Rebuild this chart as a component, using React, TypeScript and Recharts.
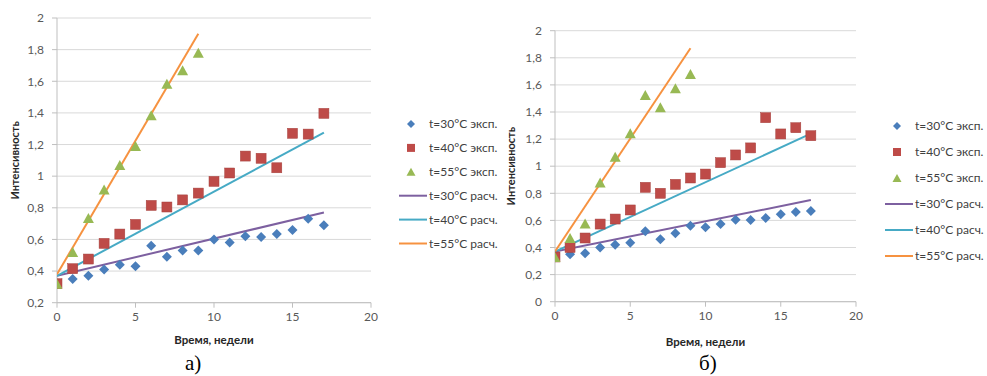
import React from 'react';
import { ScatterChart, Scatter, XAxis, YAxis, CartesianGrid, Label } from 'recharts';

// ---------- data ----------
const weeks = [0, 1, 2, 3, 4, 5, 6, 7, 8, 9, 10, 11, 12, 13, 14, 15, 16, 17];
const weeks55 = [0, 1, 2, 3, 4, 5, 6, 7, 8, 9];
const calcWeeksLong = [0, 17];
const calcWeeksShort = [0, 9];

// chart а)
const exp30A = [0.32, 0.35, 0.37, 0.41, 0.44, 0.43, 0.56, 0.49, 0.53, 0.53, 0.6, 0.58, 0.62, 0.615, 0.635, 0.66, 0.73, 0.69];
const exp40A = [0.32, 0.415, 0.476, 0.575, 0.634, 0.695, 0.815, 0.805, 0.85, 0.893, 0.967, 1.02, 1.127, 1.113, 1.053, 1.271, 1.266, 1.397];
const exp55A = [0.32, 0.52, 0.735, 0.915, 1.07, 1.19, 1.385, 1.585, 1.67, 1.78];
const calc30A = [0.37, 0.77];
const calc40A = [0.37, 1.275];
const calc55A = [0.38, 1.9];

// chart б)
const exp30B = [0.33, 0.35, 0.357, 0.4, 0.42, 0.435, 0.52, 0.46, 0.505, 0.56, 0.55, 0.573, 0.605, 0.603, 0.618, 0.645, 0.662, 0.67];
const exp40B = [0.33, 0.4, 0.47, 0.573, 0.61, 0.677, 0.844, 0.8, 0.866, 0.913, 0.942, 1.026, 1.083, 1.135, 1.358, 1.238, 1.284, 1.225];
const exp55B = [0.33, 0.47, 0.578, 0.88, 1.07, 1.243, 1.525, 1.435, 1.575, 1.68];
const calc30B = [0.37, 0.75];
const calc40B = [0.37, 1.24];
const calc55B = [0.37, 1.87];

const xTicks = [0, 5, 10, 15, 20];
const yTicksA = [0.2, 0.4, 0.6, 0.8, 1, 1.2, 1.4, 1.6, 1.8, 2];
const yTicksB = [0, 0.2, 0.4, 0.6, 0.8, 1, 1.2, 1.4, 1.6, 1.8, 2];

const seriesNames = ['t=30°C эксп.', 't=40°C эксп.', 't=55°C эксп.', 't=30°C расч.', 't=40°C расч.', 't=55°C расч.'];
const xTitle = 'Время, недели';
const yTitle = 'Интенсивность';

// ---------- styles ----------
const C_BLUE = '#4A7EBB';
const C_RED = '#BE4B48';
const C_GREEN = '#98B954';
const C_PURPLE = '#7D60A0';
const C_CYAN = '#46AAC5';
const C_ORANGE = '#F69240';
const FONT = 'Lato, "Open Sans", sans-serif';
const AXIS = '#BFBFBF';

const toPts = (xs: number[], ys: number[]) => xs.map((x, i) => ({ x, y: ys[i] }));
const fmt = (v: number) => String(Number(v.toFixed(1))).replace('.', ',');

const diamond = (r: number) => (p: any) => (
  <path d={`M${p.cx},${p.cy - r}L${p.cx + r},${p.cy}L${p.cx},${p.cy + r}L${p.cx - r},${p.cy}Z`} fill={C_BLUE} />
);
const square = (r: number) => (p: any) => (
  <rect x={p.cx - r} y={p.cy - r} width={2 * r} height={2 * r} fill={C_RED} stroke="#A5403D" strokeWidth={0.5} />
);
const triangle = (w: number, h: number) => (p: any) => (
  <path d={`M${p.cx},${p.cy - h / 2}L${p.cx + w / 2},${p.cy + h / 2}L${p.cx - w / 2},${p.cy + h / 2}Z`} fill={C_GREEN} />
);
const none = () => <g />;

type PanelProps = {
  left: number;
  margin: { top: number; right: number; bottom: number; left: number };
  yDomain: [number, number];
  yTicks: number[];
  exp30: number[];
  exp40: number[];
  exp55: number[];
  calc30: number[];
  calc40: number[];
  calc55: number[];
  xLabelOffset: number;
  yLabelOffset: number;
  mk: number;
};

function Panel(p: PanelProps) {
  return (
    <div style={{ position: 'absolute', left: p.left, top: 0 }}>
      <ScatterChart width={490} height={376} margin={p.margin}>
        <CartesianGrid vertical={false} stroke="#D9D9D9" strokeWidth={1} />
        <XAxis
          type="number"
          dataKey="x"
          domain={[0, 20]}
          ticks={xTicks}
          height={30}
          tickSize={5}
          tickMargin={5}
          axisLine={{ stroke: AXIS }}
          tickLine={{ stroke: AXIS }}
          tick={{ fill: '#595959', fontSize: 12, fontFamily: FONT }}
          allowDataOverflow
        >
          <Label
            value={xTitle}
            position="bottom"
            offset={p.xLabelOffset}
            style={{ fontWeight: 700, fontSize: 11.5, fontFamily: FONT, fill: '#262626' }}
          />
        </XAxis>
        <YAxis
          type="number"
          dataKey="y"
          domain={p.yDomain}
          ticks={p.yTicks}
          width={37}
          tickSize={5}
          tickMargin={8}
          tickFormatter={fmt}
          axisLine={{ stroke: AXIS }}
          tickLine={{ stroke: AXIS }}
          tick={{ fill: '#595959', fontSize: 12, fontFamily: FONT }}
          allowDataOverflow
        >
          <Label
            value={yTitle}
            angle={-90}
            position="insideLeft"
            offset={p.yLabelOffset}
            style={{ textAnchor: 'middle', fontWeight: 700, fontSize: 11, fontFamily: FONT, fill: '#262626' }}
          />
        </YAxis>
        <Scatter data={toPts(calcWeeksLong, p.calc30)} line={{ stroke: C_PURPLE, strokeWidth: 2 }} shape={none} isAnimationActive={false} />
        <Scatter data={toPts(calcWeeksLong, p.calc40)} line={{ stroke: C_CYAN, strokeWidth: 2 }} shape={none} isAnimationActive={false} />
        <Scatter data={toPts(calcWeeksShort, p.calc55)} line={{ stroke: C_ORANGE, strokeWidth: 2 }} shape={none} isAnimationActive={false} />
        <Scatter data={toPts(weeks, p.exp30)} shape={diamond(p.mk)} isAnimationActive={false} />
        <Scatter data={toPts(weeks, p.exp40)} shape={square(p.mk)} isAnimationActive={false} />
        <Scatter data={toPts(weeks55, p.exp55)} shape={triangle(p.mk * 2 + 1, p.mk * 2)} isAnimationActive={false} />
      </ScatterChart>
    </div>
  );
}

function LegendBox({ left, top, step }: { left: number; top: number; step: number }) {
  const lineColors = [C_PURPLE, C_CYAN, C_ORANGE];
  return (
    <svg style={{ position: 'absolute', left, top }} width={110} height={step * 6 + 10}>
      {seriesNames.map((name, i) => {
        const cy = 8 + i * step;
        let mark: React.ReactNode = null;
        if (i === 0) mark = <path d={`M12,${cy - 4}L16,${cy}L12,${cy + 4}L8,${cy}Z`} fill={C_BLUE} />;
        else if (i === 1) mark = <rect x={8} y={cy - 4} width={8} height={8} fill={C_RED} />;
        else if (i === 2) mark = <path d={`M12,${cy - 4}L16.5,${cy + 4}L7.5,${cy + 4}Z`} fill={C_GREEN} />;
        else mark = <line x1={0} x2={28} y1={cy} y2={cy} stroke={lineColors[i - 3]} strokeWidth={2} />;
        return (
          <g key={name}>
            {mark}
            <text x={30} y={cy} dy="0.35em" fontSize={12} fontFamily={FONT} fill="#404040">
              {name}
            </text>
          </g>
        );
      })}
    </svg>
  );
}

export default function App() {
  return (
    <div style={{ position: 'absolute', left: 0, top: 0, width: 987, height: 376, background: '#fff', overflow: 'hidden' }}>
      <Panel
        left={0}
        margin={{ top: 18, right: 119, left: 20, bottom: 43.3 }}
        yDomain={[0.2, 2]}
        yTicks={yTicksA}
        exp30={exp30A}
        exp40={exp40A}
        exp55={exp55A}
        calc30={calc30A}
        calc40={calc40A}
        calc55={calc55A}
        xLabelOffset={3}
        yLabelOffset={-5}
        mk={5}
      />
      <Panel
        left={495}
        margin={{ top: 30.7, right: 129, left: 23, bottom: 44.3 }}
        yDomain={[0, 2]}
        yTicks={yTicksB}
        exp30={exp30B}
        exp40={exp40B}
        exp55={exp55B}
        calc30={calc30B}
        calc40={calc40B}
        calc55={calc55B}
        xLabelOffset={6}
        yLabelOffset={-7}
        mk={5}
      />
      <LegendBox left={399} top={116} step={23.9} />
      <LegendBox left={885} top={118} step={26} />
      <div style={{ position: 'absolute', left: 185, top: 352, fontFamily: '"Liberation Serif", serif', fontSize: 21, lineHeight: '23px' }}>а)</div>
      <div style={{ position: 'absolute', left: 699, top: 352, fontFamily: '"Liberation Serif", serif', fontSize: 21, lineHeight: '23px' }}>б)</div>
    </div>
  );
}
